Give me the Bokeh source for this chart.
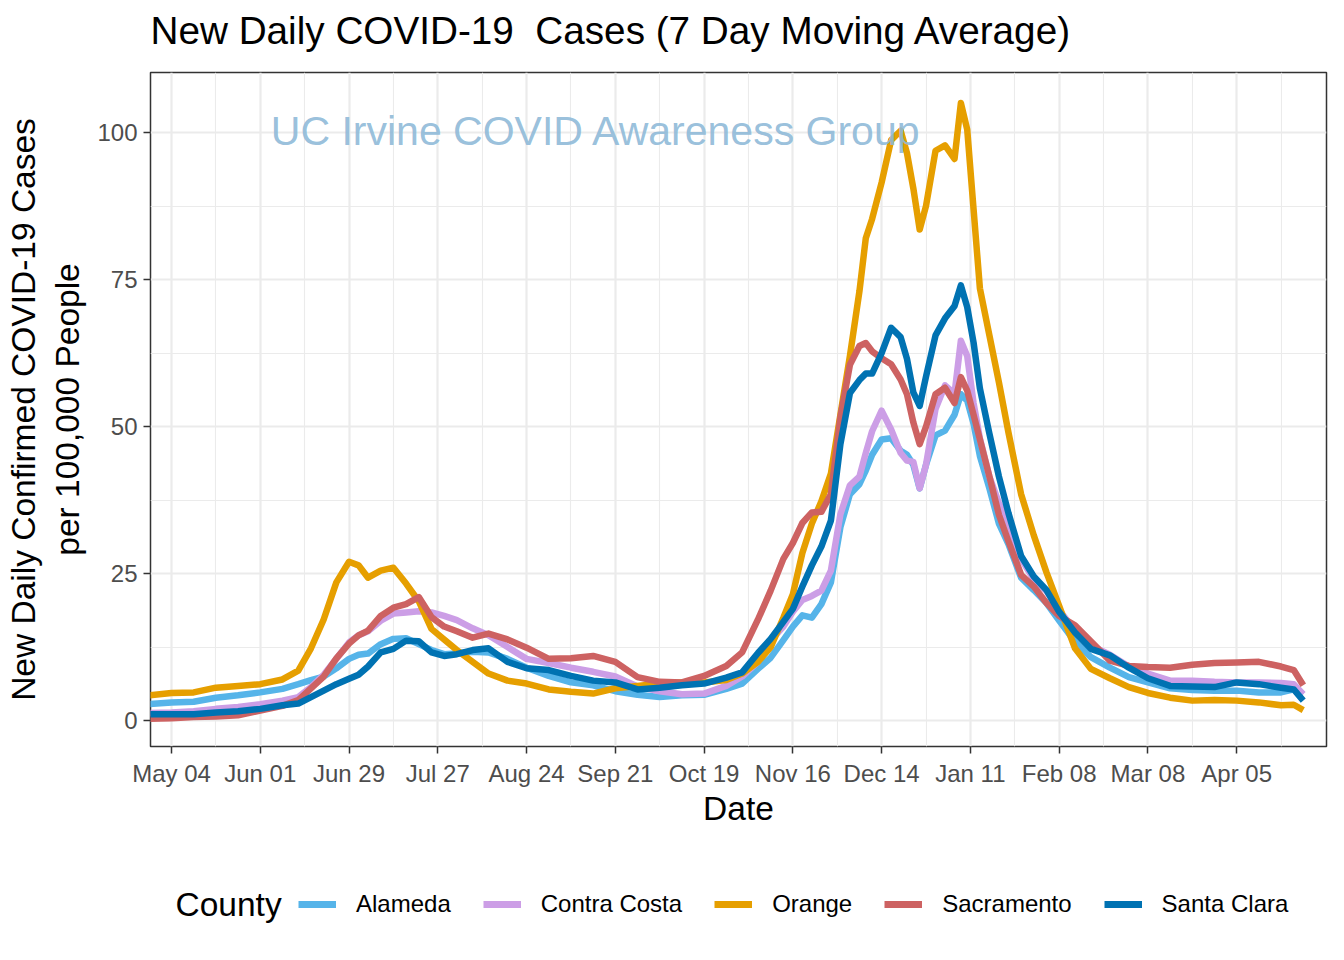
import pandas as pd
from bokeh.plotting import figure
from bokeh.layouts import column
from bokeh.models import Range1d, FixedTicker, Legend, LegendItem, Label
from bokeh.embed import file_html
from bokeh.resources import INLINE

# ---------------- data ----------------
dates = [
    "2020-04-27", "2020-05-04", "2020-05-11", "2020-05-18", "2020-05-25", "2020-06-01",
    "2020-06-08", "2020-06-13", "2020-06-17", "2020-06-21", "2020-06-25", "2020-06-29",
    "2020-07-02", "2020-07-05", "2020-07-09", "2020-07-13", "2020-07-17", "2020-07-21",
    "2020-07-25", "2020-07-29", "2020-08-02", "2020-08-07", "2020-08-12", "2020-08-18",
    "2020-08-24", "2020-08-31", "2020-09-07", "2020-09-14", "2020-09-21", "2020-09-28",
    "2020-10-05", "2020-10-12", "2020-10-19", "2020-10-26", "2020-10-31", "2020-11-05",
    "2020-11-09", "2020-11-13", "2020-11-16", "2020-11-19", "2020-11-22", "2020-11-25",
    "2020-11-28", "2020-12-01", "2020-12-04", "2020-12-07", "2020-12-09", "2020-12-11",
    "2020-12-14", "2020-12-17", "2020-12-20", "2020-12-22", "2020-12-24", "2020-12-26",
    "2020-12-28", "2020-12-31", "2021-01-03", "2021-01-06", "2021-01-08", "2021-01-10",
    "2021-01-12", "2021-01-14", "2021-01-17", "2021-01-20", "2021-01-23", "2021-01-27",
    "2021-01-31", "2021-02-04", "2021-02-08", "2021-02-13", "2021-02-18", "2021-02-24",
    "2021-03-02", "2021-03-08", "2021-03-15", "2021-03-22", "2021-03-29", "2021-04-05",
    "2021-04-12", "2021-04-19", "2021-04-23", "2021-04-26",
]

alameda = [
    2.8, 3.1, 3.2, 3.9, 4.3, 4.8, 5.4, 6.2, 6.9, 7.5,
    8.9, 10.5, 11.2, 11.4, 13.0, 13.9, 14.0, 13.0, 12.0, 11.3,
    11.4, 11.7, 11.6, 10.5, 9.0, 7.6, 6.5, 6.0, 5.0, 4.4,
    4.0, 4.3, 4.4, 5.4, 6.3, 8.8, 10.7, 13.7, 16.0, 17.9,
    17.5, 19.8, 23.5, 32.9, 38.5, 40.2, 42.5, 45.2, 47.8, 48.0,
    45.9, 45.2, 43.5, 39.5, 43.5, 48.5, 49.3, 52.0, 55.5, 54.4,
    50.5, 45.0, 39.5, 33.5, 30.0, 24.3, 22.2, 20.0, 17.0, 13.4,
    10.8, 9.0, 7.4, 6.5, 5.5, 5.2, 5.1, 5.1, 4.8, 4.8,
    5.3, 4.5,
]

contra_costa = [
    1.3, 1.4, 1.6, 2.0, 2.3, 2.8, 3.4, 4.0, 5.7, 7.8,
    10.5, 13.3, 14.5, 15.2, 17.0, 18.2, 18.4, 18.6, 18.4, 17.8,
    17.1, 15.7, 14.5, 12.5, 10.5, 9.8, 9.0, 8.3, 7.5, 5.8,
    5.0, 4.5, 4.6, 5.9, 7.5, 10.0, 13.6, 16.0, 18.5, 20.5,
    21.2, 22.1, 25.5, 35.1, 40.0, 41.5, 45.5, 49.2, 52.7, 49.5,
    45.5, 44.2, 44.0, 39.5, 43.5, 53.0, 57.0, 55.6, 64.6, 62.0,
    54.0, 48.0, 41.5, 37.0, 33.5, 27.5, 24.0, 22.0, 18.8, 15.3,
    12.8, 11.2, 9.2, 8.0, 6.8, 6.8, 6.6, 6.5, 6.5, 6.4,
    6.2, 4.5,
]

orange = [
    4.3, 4.7, 4.8, 5.6, 5.9, 6.2, 7.0, 8.5, 12.3, 17.2,
    23.5, 27.0, 26.4, 24.3, 25.5, 26.0, 23.3, 20.3, 15.6, 13.8,
    12.0, 10.0, 8.0, 6.8, 6.3, 5.3, 4.9, 4.6, 5.5, 5.9,
    6.3, 6.5, 6.5, 6.9, 8.0, 10.0, 12.5, 17.5, 21.5, 28.5,
    33.5, 37.3, 42.0, 52.0, 62.0, 73.0, 82.0, 85.3, 91.5, 98.7,
    100.3, 96.5, 90.5, 83.5, 87.5, 96.9, 97.8, 95.5, 105.0, 100.5,
    87.0, 73.5, 65.5, 57.5, 49.0, 38.5, 31.5, 25.2, 19.5, 12.3,
    8.8, 7.2, 5.7, 4.7, 3.9, 3.4, 3.5, 3.4, 3.1, 2.6,
    2.7, 1.8,
]

sacramento = [
    0.3, 0.4, 0.6, 0.7, 0.9, 1.7, 2.5, 3.5, 5.5, 7.5,
    10.6, 13.1, 14.5, 15.3, 17.8, 19.2, 19.8, 21.0, 17.6, 16.0,
    15.2, 14.1, 14.8, 13.8, 12.4, 10.5, 10.6, 11.0, 10.0, 7.4,
    6.6, 6.5, 7.6, 9.3, 11.6, 17.2, 22.1, 27.5, 30.2, 33.6,
    35.4, 35.5, 38.5, 51.6, 60.5, 63.7, 64.2, 62.8, 61.6, 60.6,
    58.0, 55.5, 50.7, 47.0, 50.0, 55.5, 56.6, 54.0, 58.4, 56.1,
    52.0, 47.8, 41.5, 35.0, 30.5, 24.8, 22.8, 20.0, 17.8, 16.2,
    13.5, 10.2, 9.3, 9.1, 9.0, 9.5, 9.8, 9.9, 10.0, 9.2,
    8.6, 6.0,
]

santa_clara = [
    1.1, 1.1, 1.1, 1.4, 1.6, 2.0, 2.6, 2.9, 4.0, 5.1,
    6.2, 7.1, 7.8, 9.2, 11.6, 12.2, 13.6, 13.5, 11.6, 11.0,
    11.3, 12.0, 12.3, 10.0, 8.9, 8.6, 7.6, 6.8, 6.5, 5.3,
    5.6, 6.0, 6.3, 7.3, 8.2, 11.5, 13.9, 16.8, 19.0, 22.8,
    26.4, 29.6, 34.0, 47.0, 55.7, 57.9, 59.0, 59.0, 62.5, 66.8,
    65.2, 61.5, 55.8, 53.5, 58.5, 65.5, 68.4, 70.5, 74.0, 70.3,
    64.3, 56.5, 48.8, 41.5, 35.3, 28.0, 24.5, 22.2, 18.5, 15.0,
    12.2, 11.1, 9.0, 7.2, 5.9, 5.8, 5.7, 6.5, 6.2, 5.6,
    5.3, 3.4,
]

counties = ["Alameda", "Contra Costa", "Orange", "Sacramento", "Santa Clara"]
series = [alameda, contra_costa, orange, sacramento, santa_clara]
colors = ["#56B4E9", "#CC9EE6", "#E69F00", "#CD6262", "#0072B2"]

x_tick_dates = ["2020-05-04", "2020-06-01", "2020-06-29", "2020-07-27", "2020-08-24",
                "2020-09-21", "2020-10-19", "2020-11-16", "2020-12-14", "2021-01-11",
                "2021-02-08", "2021-03-08", "2021-04-05"]
x_tick_labels = ["May 04", "Jun 01", "Jun 29", "Jul 27", "Aug 24", "Sep 21", "Oct 19",
                 "Nov 16", "Dec 14", "Jan 11", "Feb 08", "Mar 08", "Apr 05"]
y_ticks = [0, 25, 50, 75, 100]

title_text = "New Daily COVID-19\u00a0 Cases (7 Day Moving Average)"
y_label = "New Daily Confirmed COVID-19 Cases\nper 100,000 People"
x_label = "Date"
legend_title = "County"
watermark = "UC Irvine COVID Awareness Group"

# ---------------- helpers ----------------
FONT = "Liberation Sans"
x = pd.to_datetime(dates)


def ms(d):
    return pd.Timestamp(d).value // 10**6


def strip(height):
    f = figure(width=1344, height=height, output_backend="svg", toolbar_location=None,
               x_axis_location=None, y_axis_location=None, title_location=None,
               x_range=Range1d(0, 1), y_range=Range1d(0, 1),
               min_border_left=150, min_border_right=18, min_border_top=0, min_border_bottom=0)
    f.outline_line_color = None
    f.grid.visible = False
    f.background_fill_color = "white"
    f.border_fill_color = "white"
    return f


# ---------------- title strip ----------------
top = strip(70)
top.add_layout(Label(x=0, y=40, x_units="screen", y_units="screen", text=title_text,
                     text_baseline="alphabetic", text_align="left", text_font=FONT,
                     text_font_size="38.7px", text_color="black"))

# ---------------- main plot ----------------
p = figure(
    width=1344, height=780, x_axis_type="datetime",
    output_backend="svg", toolbar_location=None, title_location=None,
    x_range=Range1d(start=pd.Timestamp("2020-04-27 09:00"), end=pd.Timestamp("2021-05-03 08:00")),
    y_range=Range1d(start=-4.4, end=110.2),
    min_border_left=150, min_border_right=18, min_border_top=2, min_border_bottom=104,
)
p.background_fill_color = "white"
p.border_fill_color = "white"
p.outline_line_color = "#333333"
p.outline_line_width = 1.5

major_ms = [ms(d) for d in x_tick_dates]
step = major_ms[1] - major_ms[0]
minor_ms = [m - step / 2 for m in major_ms] + [major_ms[-1] + step / 2]
p.xaxis.ticker = FixedTicker(ticks=major_ms, minor_ticks=minor_ms)
p.xaxis.major_label_overrides = {m: lab for m, lab in zip(major_ms, x_tick_labels)}
p.yaxis.ticker = FixedTicker(ticks=y_ticks,
                             minor_ticks=[(a + b) / 2 for a, b in zip(y_ticks[:-1], y_ticks[1:])] + [112.5])

for g in (p.xgrid, p.ygrid):
    g.grid_line_color = "#EBEBEB"
    g.grid_line_width = 2.2
    g.minor_grid_line_color = "#EBEBEB"
    g.minor_grid_line_width = 1.1

for ax in (p.xaxis, p.yaxis):
    ax.axis_line_color = None
    ax.major_tick_line_color = "#333333"
    ax.major_tick_line_width = 1.5
    ax.major_tick_out = 7
    ax.major_tick_in = 0
    ax.minor_tick_line_color = None
    ax.major_label_text_font = FONT
    ax.major_label_text_font_size = "24px"
    ax.major_label_text_color = "#4D4D4D"
    ax.axis_label_text_font = FONT
    ax.axis_label_text_font_size = "33.5px"
    ax.axis_label_text_font_style = "normal"
    ax.axis_label_text_color = "black"

p.xaxis.axis_label = x_label
p.yaxis.axis_label = y_label
p.xaxis.major_label_standoff = 6
p.yaxis.major_label_standoff = 6
p.xaxis.axis_label_standoff = 0
p.yaxis.axis_label_standoff = 8

p.add_layout(Label(x=ms("2020-09-15"), y=100.3, text=watermark, text_align="center",
                   text_baseline="middle", text_font=FONT, text_font_size="41px",
                   text_color="#8DB9D8", text_alpha=0.9))

for name, vals, col in zip(counties, series, colors):
    p.line(x, vals, line_color=col, line_width=6.5, line_join="round")

# ---------------- legend strip ----------------
leg = strip(110)
items = []
for name, col in zip(counties, colors):
    # legend key only: a single off-range point so the key has a colour to draw
    r = leg.line([-10], [-10], line_color=col, line_width=7)
    items.append(LegendItem(label=name, renderers=[r]))

legend = Legend(items=items, orientation="horizontal",
                location=(148, 41), border_line_color=None, background_fill_alpha=0,
                label_text_font=FONT, label_text_font_size="24px", label_text_color="black",
                glyph_width=38, glyph_height=30, label_standoff=20, spacing=32,
                padding=0, margin=0)
leg.add_layout(legend)
leg.add_layout(Label(x=25, y=56, x_units="screen", y_units="screen", text=legend_title,
                     text_baseline="middle", text_align="left", text_font=FONT,
                     text_font_size="33.5px", text_color="black"))

open("out.html", "w").write(file_html(column(top, p, leg, spacing=0), INLINE))
